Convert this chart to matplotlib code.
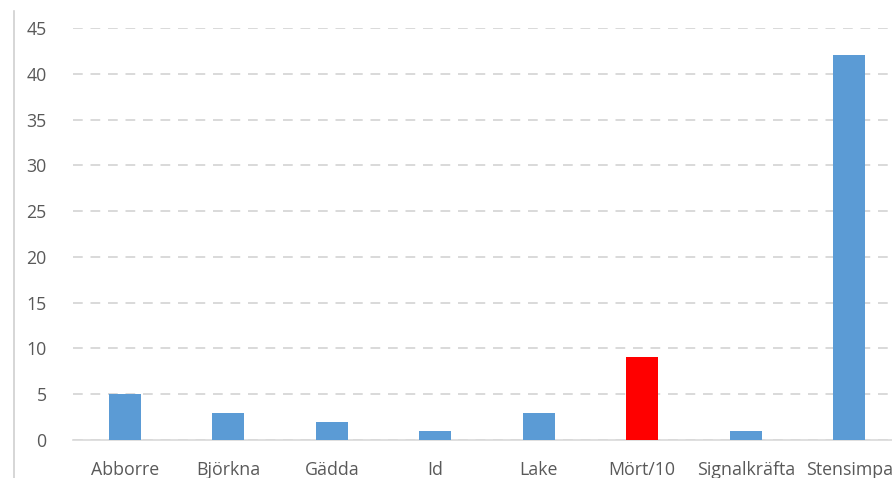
import matplotlib
matplotlib.use('Agg')
import matplotlib.pyplot as plt
from matplotlib.lines import Line2D

# arter och antal
arter = ['Abborre', 'Björkna', 'Gädda', 'Id', 'Lake', 'Mört/10', 'Signalkräfta', 'Stensimpa']
antal = [5, 3, 2, 1, 3, 9.1, 1, 42]
farger = ['#5B9BD5', '#5B9BD5', '#5B9BD5', '#5B9BD5', '#5B9BD5', '#FF0000', '#5B9BD5', '#5B9BD5']
yticks = [0, 5, 10, 15, 20, 25, 30, 35, 40, 45]

plt.rcParams['font.family'] = ['Open Sans', 'DejaVu Sans']

W, H = 892, 478
fig = plt.figure(figsize=(W / 100, H / 100), dpi=100)
ax = fig.add_axes([73 / W, (H - 440) / H, (W - 73) / W, (440 - 28) / H])

x = range(len(arter))
ax.bar(x, antal, width=0.31, color=farger, zorder=3)

ax.set_ylim(0, 45)
ax.set_xlim(-0.5, 7.5 - 9 / 103.5)
ax.set_yticks(yticks)
ax.set_xticks(list(x))
ax.set_xticklabels(arter)

ax.grid(axis='y', color='#D9D9D9', linestyle=(0, (5, 4)), linewidth=1.4, zorder=0)
ax.grid(axis='x', visible=False)
for s in ['top', 'right', 'left']:
    ax.spines[s].set_visible(False)
ax.spines['bottom'].set_color('#D9D9D9')
ax.spines['bottom'].set_linewidth(1.2)
ax.tick_params(axis='both', length=0, labelsize=12.8, labelcolor='#595959')
ax.tick_params(axis='y', pad=19)
ax.tick_params(axis='x', pad=15)

# tunn linje längs vänsterkanten
fig.add_artist(Line2D([14 / W, 14 / W], [0, (H - 11) / H], color='#D0D0D0', linewidth=1.2))

fig.savefig('out.png', dpi=100)
